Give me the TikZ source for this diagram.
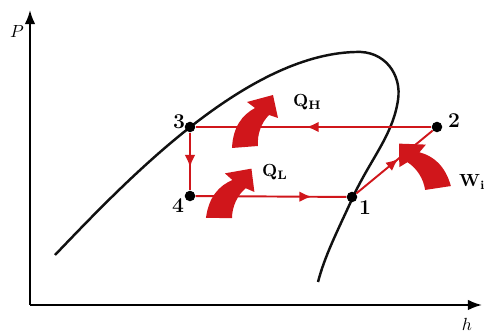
\documentclass[tikz,border=0pt]{standalone}
\usepackage{amsmath, amssymb}
\usepackage{tikz}
\usetikzlibrary{arrows.meta, decorations.markings}
\definecolor{cyclered}{HTML}{D0161B}
\definecolor{curveblack}{HTML}{111111}

\begin{document}
\begin{tikzpicture}[x=0.02cm, y=-0.02cm]
      % Diagramme P-h d'un cycle frigorifique
      % On définit les styles
      \tikzstyle{state} = [circle, fill=black, inner sep=0pt, minimum size=6pt]
      \tikzstyle{lbl} = [font=\large\bfseries, text=black]
      \tikzstyle{qlbl} = [font=\bfseries, text=black, anchor=west]
      \tikzstyle{pipe} = [draw=cyclered, line width=1.1pt]
      \tikzstyle{midarrow} = [postaction={decorate}, decoration={markings,
        mark=at position #1 with {\arrow{Latex[length=7pt,width=6pt]}}}]
      % Grosse fleche courbe (origine au milieu de la base)
      \tikzset{heat/.pic={
        \fill[cyclered] (-13,1) .. controls (-12,-20) and (-3,-32) .. (10,-39)
          -- (2,-45) -- (28,-52) -- (33,-29) -- (24,-32)
          .. controls (16,-24) and (12,-12) .. (13,-1) -- cycle;
      }}

      \useasboundingbox (0,0) rectangle (485,334);

      % Axes
      \coordinate (orig) at (30,305);
      \coordinate (ytop) at (30,10);
      \coordinate (xend) at (482,305);
      \draw[line width=1.1pt, -{Latex[length=8pt,width=6pt]}] (orig) -- (ytop);
      \draw[line width=1.1pt, -{Latex[length=8pt,width=6pt]}] (orig) -- (xend);
      \node (plbl) at (17,32) {$P$};
      \node (hlbl) at (467,324) {$h$};

      % Courbe de saturation
      \draw[curveblack, line width=1.4pt] (55,255)
        .. controls (125,182) and (245,55) .. (355,52)
        .. controls (385,50) and (402,75) .. (398,100)
        .. controls (393,135) and (370,160) .. (353,197)
        .. controls (338,230) and (325,255) .. (318,282);

      % Etats du cycle
      \node[state] (s3) at (190,127) {};
      \node[state] (s2) at (437,127) {};
      \node[state] (s4) at (190,196) {};
      \node[state] (s1) at (352,197) {};
      \node[lbl] (n3) at (179,122) {3};
      \node[lbl] (n2) at (454,121) {2};
      \node[lbl] (n4) at (178,206) {4};
      \node[lbl] (n1) at (365,208) {1};

      % Transformations
      \draw[pipe, midarrow=0.53] (s2) -- (s3);
      \draw[pipe, midarrow=0.6] (s3) -- (s4);
      \draw[pipe, midarrow=0.77] (s4) -- (s1);
      \draw[pipe, midarrow=0.55] (s1) -- (s2);

      % Echanges de chaleur et travail
      \pic at (245,147) {heat};
      \pic[rotate=-5] at (219,218) {heat};
      \pic[rotate=13, xscale=-1] at (438,188) {heat};
      \node[qlbl] (qh) at (287,102) {Q\raisebox{-0.4ex}{\scriptsize H}};
      \node[qlbl] (ql) at (256,172) {Q\raisebox{-0.4ex}{\scriptsize L}};
      \node[qlbl] (wi) at (453,182) {W\raisebox{-0.4ex}{\scriptsize i}};

    \end{tikzpicture}
\end{document}
